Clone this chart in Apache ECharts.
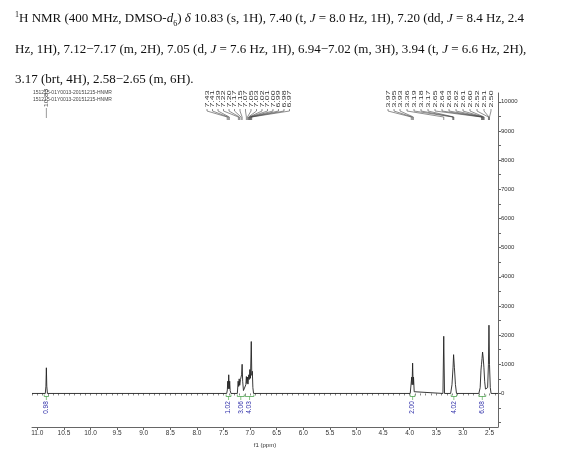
<!DOCTYPE html>
<html><head><meta charset="utf-8">
<script src="https://cdn.jsdelivr.net/npm/echarts@6/dist/echarts.min.js"></script>
<style>
html,body{margin:0;padding:0;background:#fff;}
#chart{position:absolute;left:0;top:0;width:563px;height:461px;}
#cap{position:absolute;left:15px;top:0;font-family:"Liberation Serif","Times New Roman",serif;font-size:13px;color:#111;white-space:nowrap;}
#cap div{position:absolute;left:0;line-height:15px;}
#cap sup,#cap sub{font-size:8px;line-height:0;}
</style></head><body>
<div id="chart"></div>
<div id="cap">
<div style="top:10px"><sup>1</sup>H NMR (400 MHz, DMSO-<i>d</i><sub>6</sub>) <i>δ</i> 10.83 (s, 1H), 7.40 (t, <i>J</i> = 8.0 Hz, 1H), 7.20 (dd, <i>J</i> = 8.4 Hz, 2.4</div>
<div style="top:41px">Hz, 1H), 7.12−7.17 (m, 2H), 7.05 (d, <i>J</i> = 7.6 Hz, 1H), 6.94−7.02 (m, 3H), 3.94 (t, <i>J</i> = 6.6 Hz, 2H),</div>
<div style="top:71px">3.17 (brt, 4H), 2.58−2.65 (m, 6H).</div>
</div>
<script>
// ---- data ----
const xTickValues = [11.0,10.5,10.0,9.5,9.0,8.5,8.0,7.5,7.0,6.5,6.0,5.5,5.0,4.5,4.0,3.5,3.0,2.5];
const yTickValues = [0,1000,2000,3000,4000,5000,6000,7000,8000,9000,10000];
const spectrumPpm = [11.10,10.850,10.838,10.830,10.822,10.810,
  7.440,7.428,7.420,7.412,7.402,7.392,7.384,7.375,7.360,
  7.240,7.225,7.215,7.205,7.195,7.180,7.170,7.160,7.150,7.140,7.125,7.100,
  7.080,7.070,7.060,7.050,7.040,7.025,7.015,7.005,6.993,6.978,6.968,6.958,6.948,6.935,
  3.990,3.975,3.962,3.955,3.945,3.935,3.928,3.915,3.900,
  3.375,3.360,3.345,
  3.230,3.205,3.185,3.175,3.160,3.140,3.120,
  2.700,2.675,2.660,2.650,2.640,2.630,2.620,2.605,2.590,2.575,2.560,
  2.535,2.520,2.510,2.500,2.485,2.470,2.34];
const spectrumIntensity = [0,0,250,880,250,0,
  0,120,420,160,640,160,420,100,0,
  0,420,240,500,280,480,420,640,1000,420,100,80,
  300,580,340,560,320,640,480,820,520,1780,620,760,200,0,
  0,60,560,300,1040,300,560,60,0,
  0,1960,0,
  0,300,900,1330,900,300,0,
  0,200,800,1000,1200,1420,1250,900,400,150,120,
  200,1000,2340,1000,200,0,0];
const headerLines = ['151215-01Y0013-20151215-HNMR','151215-01Y0013-20151215-HNMR'];
const singleLabel = ['10.83'];
const peakLabelsA = ['7.43','7.41','7.39','7.22','7.20','7.17','7.15','7.07','7.05','7.03','7.02','7.01','7.00','6.99','6.98','6.97'];
const peakLabelsB1 = ['3.97','3.95','3.93'];
const peakLabelsB2 = ['3.36','3.19','3.18','3.17','2.65','2.64','2.63','2.62','2.61','2.60','2.52','2.51','2.50'];
const integralLabels = ['0.98','1.02','3.06','4.03','2.00','4.02','6.08'];
const integralFrom = [10.87,7.45,7.24,7.09,3.99,3.22,2.70];
const integralTo   = [10.79,7.36,7.11,6.93,3.90,3.12,2.57];

// ---- chart ----
const chart = echarts.init(document.getElementById('chart'), null, {renderer:'canvas'});
const minorX = [];
for (let v = 111; v >= 24; v--) minorX.push(v / 10);
const ySmallTicks = [];
for (let v = -1000; v <= 10000; v += 500) ySmallTicks.push(v);
const F = 'Liberation Sans';
chart.setOption({
  animation:false,
  grid:{left:32,right:65,top:93,bottom:34},
  xAxis:[{
    type:'value',min:2.34,max:11.1,inverse:true,
    name:'f1 (ppm)',nameLocation:'middle',nameGap:11,
    nameTextStyle:{fontSize:6,fontFamily:F,color:'#333'},
    axisLine:{onZero:false,lineStyle:{color:'#666',width:1}},
    axisTick:{customValues:xTickValues,length:3,lineStyle:{color:'#666'}},
    axisLabel:{customValues:xTickValues,fontSize:6.5,fontFamily:F,color:'#333',margin:3,
      formatter:v=>Number(v).toFixed(1)},
    splitLine:{show:false}
  },{
    type:'value',min:2.34,max:11.1,inverse:true,position:'bottom',
    axisLine:{show:false},
    axisTick:{customValues:minorX,length:2,lineStyle:{color:'#888'}},
    axisLabel:{show:false},splitLine:{show:false}
  }],
  yAxis:{
    type:'value',min:-1150,max:10300,position:'right',
    axisLine:{show:true,onZero:false,lineStyle:{color:'#666',width:1}},
    axisTick:{show:true,customValues:ySmallTicks,length:3,lineStyle:{color:'#666'}},
    axisLabel:{customValues:yTickValues,fontSize:6,fontFamily:F,color:'#333',margin:3,
      formatter:v=>String(Math.round(v))},
    splitLine:{show:false}
  },
  series:[{
    type:'line',xAxisIndex:0,
    data:spectrumPpm.map((p,i)=>[p,spectrumIntensity[i]]),
    showSymbol:false,symbol:'none',sampling:null,
    lineStyle:{color:'#222',width:0.9},
    silent:true
  }]
});

// ---- annotations (positioned through the axis scale) ----
const px = ppm => chart.convertToPixel({xAxisIndex:0,yAxisIndex:0},[ppm,0])[0];
const g = [];
const txt = (x,y,t,color,size,rot,sx)=>g.push({type:'text',x:x,y:y,rotation:rot||0,scaleX:sx||1,silent:true,
  style:{text:t,font:size+'px '+F,fill:color,align:rot?'center':'left',verticalAlign:'middle'}});
const line = (pts,color,w)=>g.push({type:'polyline',silent:true,shape:{points:pts},
  style:{stroke:color,lineWidth:w||0.6,fill:null}});

// header
txt(33,93,headerLines[0],'#444',5);
txt(33,99.5,headerLines[1],'#444',5);
{ const x = px(parseFloat(singleLabel[0]));
  txt(x,98,singleLabel[0],'#444',5.5,Math.PI/2,1.35);
  line([[x,108],[x,118]],'#555',0.6); }

function peakGroup(labels,x0,step){
  labels.forEach((t,i)=>{
    const lx = x0 + i*step, pxx = px(parseFloat(t));
    txt(lx,99,t,'#333',6,Math.PI/2,1.45);
    line([[lx,109],[lx,111],[pxx,117],[pxx,120]],'#444',0.6);
  });
}
peakGroup(peakLabelsA,207,5.5);
peakGroup(peakLabelsB1,388,6);
peakGroup(peakLabelsB2,407,7);

// integrals
const centers = integralFrom.map((f,i)=>(px(f)+px(integralTo[i]))/2);
const labX = centers.slice();
for (let i=1;i<labX.length;i++) if (labX[i]-labX[i-1] < 6.8) labX[i] = labX[i-1]+6.8;
integralLabels.forEach((t,i)=>{
  const x1 = px(integralFrom[i]), x2 = px(integralTo[i]), c = centers[i];
  line([[x1,394.5],[x1,396.5],[x2,396.5],[x2,394.5]],'#3a9a3a',0.7);
  line([[c,396.5],[labX[i],400]],'#3a9a3a',0.6);
  txt(labX[i],407.5,t,'#2d2da8',6.5,Math.PI/2);
});
chart.setOption({graphic:g});
</script>
</body></html>
